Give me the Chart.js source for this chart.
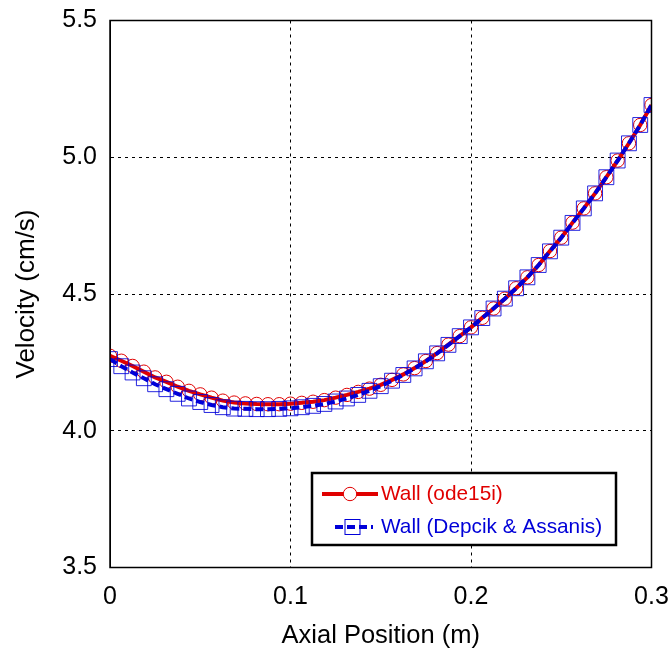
<!DOCTYPE html>
<html>
<head>
<meta charset="utf-8">
<script src="https://cdn.jsdelivr.net/npm/chart.js@4.4.1/dist/chart.umd.min.js"></script>
<style>
  html, body { margin: 0; padding: 0; background: #ffffff; }
  #wrap { width: 670px; height: 654px; }
</style>
</head>
<body>
<div id="wrap"><canvas id="c" width="670" height="654"></canvas></div>
<script>
// Axial positions (m): 49 points from 0 to 0.3
const positions = [0,0.00625,0.0125,0.01875,0.025,0.03125,0.0375,0.04375,0.05,0.05625,0.0625,0.06875,0.075,0.08125,0.0875,0.09375,0.1,0.10625,0.1125,0.11875,0.125,0.13125,0.1375,0.14375,0.15,0.15625,0.1625,0.16875,0.175,0.18125,0.1875,0.19375,0.2,0.20625,0.2125,0.21875,0.225,0.23125,0.2375,0.24375,0.25,0.25625,0.2625,0.26875,0.275,0.28125,0.2875,0.29375,0.3];

// Wall (ode15i) velocity, cm/s
const wallOde15i = [4.274,4.256,4.237,4.216,4.195,4.179,4.161,4.146,4.133,4.121,4.110,4.103,4.100,4.098,4.097,4.097,4.099,4.102,4.106,4.112,4.121,4.131,4.142,4.154,4.168,4.186,4.206,4.229,4.255,4.284,4.315,4.346,4.378,4.413,4.447,4.483,4.521,4.561,4.606,4.657,4.706,4.761,4.813,4.868,4.927,4.988,5.051,5.118,5.191];

// Wall (Depcik & Assanis) velocity, cm/s
const wallDepcik = [4.262,4.236,4.213,4.192,4.170,4.152,4.135,4.118,4.105,4.094,4.086,4.081,4.080,4.079,4.079,4.080,4.082,4.086,4.091,4.098,4.107,4.118,4.131,4.146,4.163,4.183,4.204,4.228,4.254,4.283,4.314,4.346,4.378,4.412,4.447,4.483,4.521,4.561,4.606,4.656,4.706,4.760,4.813,4.868,4.927,4.988,5.051,5.118,5.191];

const xTicks = [0, 0.1, 0.2, 0.3];
const yTicks = [3.5, 4.0, 4.5, 5.0, 5.5];

const labelOde = 'Wall (ode15i)';
const labelDep = 'Wall (Depcik & Assanis)';

const RED = '#e00000';
const BLUE = '#0000d8';
const FONT = '"Liberation Sans", Arial, Helvetica, sans-serif';

const framePlugin = {
  id: 'frame',
  afterDatasetsDraw(chart) {
    const {ctx, chartArea: a} = chart;
    ctx.save();
    ctx.strokeStyle = '#000';
    ctx.lineWidth = 1.5;
    ctx.setLineDash([]);
    ctx.strokeRect(a.left, a.top, a.right - a.left, a.bottom - a.top);
    ctx.restore();
  },
  afterDraw(chart) {
    const {ctx} = chart;
    const ds = chart.data.datasets;
    ctx.save();
    // legend box
    const bx = 312, by = 473, bw = 304, bh = 72;
    ctx.fillStyle = '#fff';
    ctx.fillRect(bx, by, bw, bh);
    ctx.strokeStyle = '#000';
    ctx.lineWidth = 2.5;
    ctx.strokeRect(bx, by, bw, bh);
    // red entry
    const y1 = 494, y2 = 527;
    ctx.strokeStyle = RED; ctx.lineWidth = 4; ctx.setLineDash([]);
    ctx.beginPath(); ctx.moveTo(322, y1); ctx.lineTo(378, y1); ctx.stroke();
    ctx.lineWidth = 1;
    ctx.fillStyle = '#fff';
    ctx.beginPath(); ctx.arc(350, y1, 6.7, 0, Math.PI * 2); ctx.fill(); ctx.stroke();
    // blue entry
    ctx.strokeStyle = BLUE; ctx.lineWidth = 4; ctx.setLineDash([8, 4]);
    ctx.beginPath(); ctx.moveTo(335, y2); ctx.lineTo(373, y2); ctx.stroke();
    ctx.setLineDash([]); ctx.lineWidth = 1;
    ctx.strokeRect(345, y2 - 7.5, 15, 15);
    // texts
    ctx.font = '20.8px ' + FONT;
    ctx.textBaseline = 'middle';
    ctx.textAlign = 'left';
    ctx.fillStyle = RED;
    ctx.fillText(ds[1].label, 381, y1);
    ctx.fillStyle = BLUE;
    ctx.fillText(ds[0].label, 381, y2);
    ctx.restore();
  }
};

const toPts = (ys) => positions.map((x, i) => ({x: x, y: ys[i]}));

new Chart(document.getElementById('c'), {
  type: 'line',
  data: {
    datasets: [
      {
        label: labelDep,
        data: toPts(wallDepcik),
        borderColor: BLUE,
        borderWidth: 4,
        borderDash: [8, 4],
        pointStyle: 'rect',
        pointRadius: 10.5,
        pointBorderWidth: 1,
        pointBorderColor: 'rgba(0,0,216,0.85)',
        pointBackgroundColor: 'rgba(0,0,0,0)',
        tension: 0,
        order: 0
      },
      {
        label: labelOde,
        data: toPts(wallOde15i),
        borderColor: RED,
        borderWidth: 4,
        pointStyle: 'circle',
        pointRadius: 6.7,
        pointBorderWidth: 1,
        pointBorderColor: RED,
        pointBackgroundColor: 'rgba(0,0,0,0)',
        tension: 0,
        order: 1
      }
    ]
  },
  options: {
    responsive: false,
    devicePixelRatio: 1,
    animation: false,
    layout: { padding: { top: 20.5, right: 18.5, left: 0, bottom: 0 } },
    plugins: { legend: { display: false }, tooltip: { enabled: false } },
    scales: {
      x: {
        type: 'linear',
        min: 0, max: 0.3,
        afterBuildTicks: (s) => { s.ticks = xTicks.map(v => ({value: v})); },
        afterFit: (s) => { s.height = 86.5; s.paddingLeft = 0; s.paddingRight = 0; },
        grid: { color: '#000', lineWidth: 1, drawTicks: false },
        border: { display: true, color: '#000', dash: [3, 4] },
        ticks: {
          color: '#000', padding: 15, maxRotation: 0,
          font: { family: FONT, size: 25 },
          callback: (v) => (v === 0 ? '0' : Number(v).toFixed(1))
        },
        title: {
          display: true, text: 'Axial Position (m)', color: '#000',
          font: { family: FONT, size: 25.5 }, padding: { top: 0, bottom: 3 }
        }
      },
      y: {
        type: 'linear',
        min: 3.5, max: 5.5,
        afterBuildTicks: (s) => { s.ticks = yTicks.map(v => ({value: v})); },
        afterFit: (s) => { s.width = 110; s.paddingTop = 0; s.paddingBottom = 0; },
        grid: { color: '#000', lineWidth: 1, drawTicks: false },
        border: { display: true, color: '#000', dash: [3, 4] },
        ticks: {
          color: '#000', padding: 13,
          font: { family: FONT, size: 25 },
          callback: (v) => Number(v).toFixed(1)
        },
        title: {
          display: true, text: 'Velocity (cm/s)', color: '#000',
          font: { family: FONT, size: 26 }, padding: { top: 11, bottom: 0 }
        }
      }
    }
  },
  plugins: [framePlugin]
});
</script>
</body>
</html>
